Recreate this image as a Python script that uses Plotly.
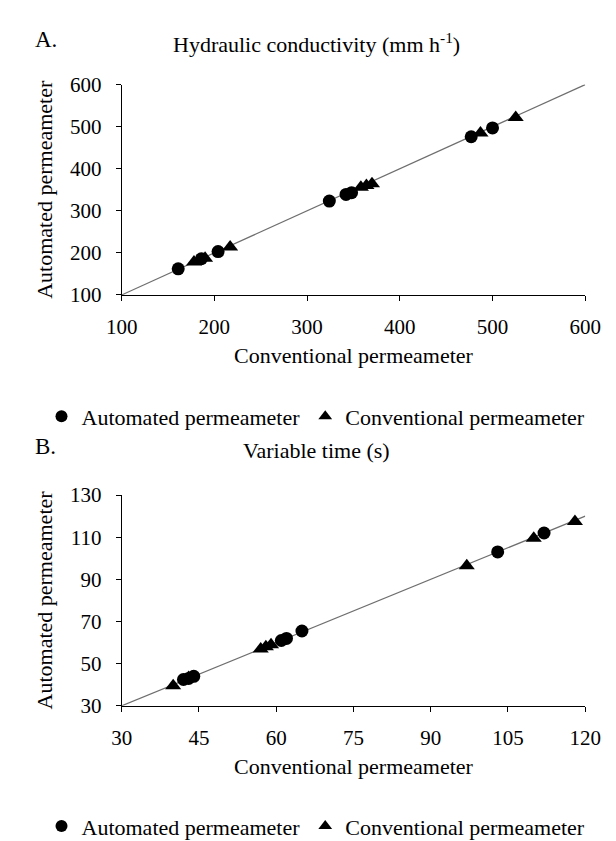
import plotly.graph_objects as go

# ---------------- Data ----------------
# Panel A: Hydraulic conductivity (mm h-1)
a_auto_x = [161, 186, 204, 324, 342, 348, 477, 500]
a_auto_y = [162, 186, 203, 323, 339, 343, 476, 497]
a_conv_x = [178, 190, 217, 358, 364, 370, 487, 525]
a_conv_y = [178, 187, 214, 356, 360, 364, 485, 522]
a_line = [100, 600]
a_ticks = [100, 200, 300, 400, 500, 600]

# Panel B: Variable time (s)
b_auto_x = [42, 43, 44, 61, 62, 65, 103, 112]
b_auto_y = [42.5, 43, 44, 61, 62, 65.5, 103, 112]
b_conv_x = [40, 43, 57, 58, 59, 97, 110, 118]
b_conv_y = [39.5, 43.5, 57, 58, 59, 96.5, 109.5, 117.5]
b_line = [30, 120]
b_xticks = [30, 45, 60, 75, 90, 105, 120]
b_yticks = [30, 50, 70, 90, 110, 130]

series_names = ["Automated permeameter", "Conventional permeameter"]
x_title = "Conventional permeameter"
y_title = "Automated permeameter"
panel_titles = ["Hydraulic conductivity (mm h<sup>-1</sup>)", "Variable time (s)"]
panel_labels = ["A.", "B."]

FONT = "Liberation Serif, Times New Roman, serif"
W, H = 616, 841

fig = go.Figure()

# Panel A traces
fig.add_trace(go.Scatter(x=a_line, y=a_line, mode="lines", line=dict(color="#6e6e6e", width=1.2),
                         showlegend=False, hoverinfo="skip", xaxis="x", yaxis="y"))
fig.add_trace(go.Scatter(x=a_auto_x, y=a_auto_y, mode="markers", name=series_names[0],
                         marker=dict(symbol="circle", size=13, color="black"),
                         xaxis="x", yaxis="y", legend="legend"))
fig.add_trace(go.Scatter(x=a_conv_x, y=a_conv_y, mode="markers", name=series_names[1],
                         marker=dict(symbol="triangle-up", size=14, color="black"),
                         xaxis="x", yaxis="y", legend="legend"))

# Panel B traces
fig.add_trace(go.Scatter(x=b_line, y=b_line, mode="lines", line=dict(color="#6e6e6e", width=1.2),
                         showlegend=False, hoverinfo="skip", xaxis="x2", yaxis="y2"))
fig.add_trace(go.Scatter(x=b_auto_x, y=b_auto_y, mode="markers", name=series_names[0],
                         marker=dict(symbol="circle", size=13, color="black"),
                         xaxis="x2", yaxis="y2", legend="legend2"))
fig.add_trace(go.Scatter(x=b_conv_x, y=b_conv_y, mode="markers", name=series_names[1],
                         marker=dict(symbol="triangle-up", size=14, color="black"),
                         xaxis="x2", yaxis="y2", legend="legend2"))

xdom = [103 / W, 592 / W]
ydom_a = [(H - 283) / H, (H - 66.5) / H]
ydom_b = [(H - 706) / H, (H - 489) / H]

axis_common = dict(
    showline=True, linecolor="black", linewidth=1,
    ticks="outside", ticklen=5, tickcolor="black", tickwidth=1,
    showgrid=False, zeroline=False,
    tickfont=dict(family=FONT, size=21, color="black"),
)

fig.update_layout(
    width=W, height=H,
    margin=dict(l=0, r=0, t=0, b=0),
    paper_bgcolor="white", plot_bgcolor="white",
    font=dict(family=FONT, size=21, color="black"),
    xaxis=dict(domain=xdom, range=[100, 600], tickvals=a_ticks, anchor="y",
               title=dict(text=x_title, font=dict(family=FONT, size=22), standoff=9),
               ticklabelstandoff=8, **axis_common),
    yaxis=dict(domain=ydom_a, range=[100, 600], tickvals=a_ticks, anchor="x",
               title=dict(text=y_title, font=dict(family=FONT, size=22), standoff=11),
               ticklabelstandoff=10, **axis_common),
    xaxis2=dict(domain=xdom, range=[30, 120], tickvals=b_xticks, anchor="y2",
                title=dict(text=x_title, font=dict(family=FONT, size=22), standoff=9),
                ticklabelstandoff=8, **axis_common),
    yaxis2=dict(domain=ydom_b, range=[30, 130], tickvals=b_yticks, anchor="x2",
                title=dict(text=y_title, font=dict(family=FONT, size=22), standoff=11),
                ticklabelstandoff=10, **axis_common),
    legend=dict(orientation="h", x=0.5, xanchor="center", y=(H - 408) / H, yanchor="middle",
                font=dict(family=FONT, size=22), itemwidth=30, bgcolor="rgba(0,0,0,0)",
                itemsizing="constant"),
    legend2=dict(orientation="h", x=0.5, xanchor="center", y=(H - 830) / H, yanchor="middle",
                 font=dict(family=FONT, size=22), itemwidth=30, bgcolor="rgba(0,0,0,0)",
                 itemsizing="constant"),
)

# Panel titles and labels
for label, title, ycenter in [(panel_labels[0], panel_titles[0], 20),
                              (panel_labels[1], panel_titles[1], 20 + 419)]:
    fig.add_annotation(text=label, x=10 / W, y=(H - ycenter) / H, xref="paper", yref="paper",
                       xanchor="left", yanchor="middle", showarrow=False,
                       font=dict(family=FONT, size=23, color="black"))
    fig.add_annotation(text=title, x=0.5, y=(H - ycenter - 4) / H, xref="paper", yref="paper",
                       xanchor="center", yanchor="middle", showarrow=False,
                       font=dict(family=FONT, size=22, color="black"))

fig.write_html("out.html")
